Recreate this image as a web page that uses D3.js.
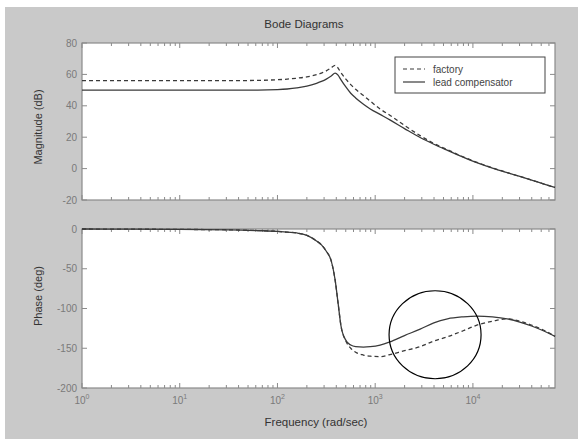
<!DOCTYPE html>
<html>
<head>
<meta charset="utf-8">
<script src="https://cdn.jsdelivr.net/npm/d3@7"></script>
<style>
  body { margin: 0; background: #fff; }
  svg { display: block; font-family: "Liberation Sans", Arial, sans-serif; }
</style>
</head>
<body>
<div id="chart"></div>
<script>
// Bode plot, factory vs lead compensator

const width = 578;
const height = 439;

// frequency grid (rad/sec)
const freq = [1, 3.16, 10, 31.6, 63, 100, 126, 158, 200, 251, 282, 316, 355, 389, 417, 447, 501, 562, 631, 759, 891, 1122, 1413, 1995, 2884, 3981, 5495, 7943, 10965, 15849, 22387, 30200, 39811, 52481, 69183];

// magnitude (dB)
const magFactory = [56, 56, 56, 56, 56.2, 56.6, 57, 57.6, 58.4, 59.8, 60.8, 62.2, 64.2, 65.8, 64, 61, 57, 53.5, 50.5, 46.5, 43, 38, 34, 27.5, 21, 16, 12, 7.5, 4, 0.5, -2.5, -5, -7.3, -9.7, -12];
const magLead = [50, 50, 50, 50, 50, 50.3, 50.7, 51.4, 52.5, 54.3, 55.5, 57, 59, 60.8, 59.5, 56.5, 52, 48, 45, 41, 38, 34.5, 31, 25.5, 19.8, 15.5, 11.6, 7.3, 3.8, 0.3, -2.6, -5, -7.3, -9.7, -12];

// phase (deg)
const phaseFactory = [0, -0.2, -0.5, -1, -2, -3, -4, -5, -8, -15, -20, -28, -40, -64, -93, -122, -141, -150, -155, -158.5, -160, -160.5, -158, -153, -148, -141, -135.5, -128, -121, -116, -113, -116, -121, -127, -135];
const phaseLead = [0, -0.2, -0.5, -1, -2, -3, -4, -5, -8, -15, -20, -28, -40, -64, -93, -122, -140, -146, -148, -148.5, -148, -146, -142, -134, -126, -118, -113, -110.5, -109.5, -110.5, -113, -117, -122, -128, -135];

// axis ticks
const magTicks = [-20, 0, 20, 40, 60, 80];
const phaseTicks = [-200, -150, -100, -50, 0];
const freqTicks = [1, 10, 100, 1000, 10000];

const seriesNames = ["factory", "lead compensator"];

// circled region on the phase plot
const markFreq = 4100;
const markPhase = -133;

const left = 82, right = 555;
const magBox = {top: 43, bottom: 200};
const phBox = {top: 229, bottom: 388};

const svg = d3.select("#chart")
  .append("svg")
  .attr("width", width)
  .attr("height", height);

// grey figure background
svg.append("rect")
  .attr("x", 5).attr("y", 7)
  .attr("width", width - 5).attr("height", height - 7)
  .attr("fill", "#c9c9c9");

const x = d3.scaleLog()
  .domain([1, 69183])
  .range([left, right]);

const yMag = d3.scaleLinear().domain([-20, 80]).range([magBox.bottom, magBox.top]);
const yPh = d3.scaleLinear().domain([-200, 0]).range([phBox.bottom, phBox.top]);

const axisColor = "#8a8a8a";
const tickColor = "#7a7a7a";
const lineColor = "#3a3a3a";

// minor log ticks
const minorTicks = [];
for (let dec = 1; dec < 100000; dec *= 10) {
  for (let k = 1; k < 10; k++) {
    const v = dec * k;
    if (v >= 1 && v <= 69183) minorTicks.push(v);
  }
}

function drawPanel(box, y, yTicks, labelY) {
  const g = svg.append("g");

  g.append("rect")
    .attr("x", left).attr("y", box.top)
    .attr("width", right - left).attr("height", box.bottom - box.top)
    .attr("fill", "#fff");

  // x ticks (inward, top and bottom)
  g.selectAll(".xt")
    .data(minorTicks)
    .enter().append("path")
    .attr("d", d => {
      const major = freqTicks.includes(d);
      const len = major ? 5 : 3;
      const px = x(d);
      return `M${px},${box.bottom}v${-len}M${px},${box.top}v${len}`;
    })
    .attr("stroke", axisColor)
    .attr("stroke-width", 1);

  // y ticks (inward, left and right)
  g.selectAll(".yt")
    .data(yTicks)
    .enter().append("path")
    .attr("d", d => `M${left},${y(d)}h5M${right},${y(d)}h-5`)
    .attr("stroke", axisColor)
    .attr("stroke-width", 1);

  g.selectAll(".ylab")
    .data(yTicks)
    .enter().append("text")
    .attr("x", left - 5)
    .attr("y", d => y(d))
    .attr("dy", "0.35em")
    .attr("text-anchor", "end")
    .attr("font-size", "10px")
    .attr("fill", tickColor)
    .text(d => d);

  g.append("rect")
    .attr("x", left).attr("y", box.top)
    .attr("width", right - left).attr("height", box.bottom - box.top)
    .attr("fill", "none")
    .attr("stroke", axisColor)
    .attr("stroke-width", 1.2);

  g.append("text")
    .attr("transform", `translate(38,${labelY}) rotate(-90)`)
    .attr("text-anchor", "middle")
    .attr("dy", "0.35em")
    .attr("font-size", "11px")
    .attr("fill", "#333")
    .text(box.label);

  return g;
}

magBox.label = "Magnitude (dB)";
phBox.label = "Phase (deg)";
drawPanel(magBox, yMag, magTicks, 127);
drawPanel(phBox, yPh, phaseTicks, 296);

// x tick labels with superscripts
const xl = svg.selectAll(".xlab")
  .data(freqTicks)
  .enter().append("text")
  .attr("x", d => x(d))
  .attr("y", 404)
  .attr("text-anchor", "middle")
  .attr("font-size", "10px")
  .attr("fill", tickColor);
xl.append("tspan").text("10");
xl.append("tspan")
  .attr("dy", -5)
  .attr("font-size", "7px")
  .text(d => Math.round(Math.log10(d)));

// curves
const magLine = series => d3.line()
  .x((d, i) => x(freq[i]))
  .y(d => yMag(d))
  .curve(d3.curveMonotoneX)(series);

const phLine = series => d3.line()
  .x((d, i) => x(freq[i]))
  .y(d => yPh(d))
  .curve(d3.curveMonotoneX)(series);

svg.append("path").attr("d", magLine(magLead))
  .attr("fill", "none").attr("stroke", lineColor).attr("stroke-width", 1.3);
svg.append("path").attr("d", magLine(magFactory))
  .attr("fill", "none").attr("stroke", lineColor).attr("stroke-width", 1.3)
  .attr("stroke-dasharray", "4,3");

svg.append("path").attr("d", phLine(phaseLead))
  .attr("fill", "none").attr("stroke", lineColor).attr("stroke-width", 1.3);
svg.append("path").attr("d", phLine(phaseFactory))
  .attr("fill", "none").attr("stroke", lineColor).attr("stroke-width", 1.3)
  .attr("stroke-dasharray", "4,3");

// legend
const lg = svg.append("g").attr("transform", "translate(395,57)");
lg.append("rect")
  .attr("width", 150).attr("height", 36)
  .attr("fill", "#fff")
  .attr("stroke", "#444")
  .attr("stroke-width", 1);
seriesNames.forEach((name, i) => {
  const yy = 12 + i * 13;
  lg.append("line")
    .attr("x1", 8).attr("x2", 30)
    .attr("y1", yy).attr("y2", yy)
    .attr("stroke", lineColor)
    .attr("stroke-width", 1.2)
    .attr("stroke-dasharray", i === 0 ? "4,3" : null);
  lg.append("text")
    .attr("x", 38).attr("y", yy)
    .attr("dy", "0.35em")
    .attr("font-size", "10px")
    .attr("fill", "#444")
    .text(name);
});

// circle annotation
svg.append("ellipse")
  .attr("cx", x(markFreq))
  .attr("cy", yPh(markPhase))
  .attr("rx", 46).attr("ry", 44)
  .attr("fill", "none")
  .attr("stroke", "#000")
  .attr("stroke-width", 1.2);

// titles
svg.append("text")
  .attr("x", 304).attr("y", 24)
  .attr("dy", "0.35em")
  .attr("text-anchor", "middle")
  .attr("font-size", "11.5px")
  .attr("fill", "#333")
  .text("Bode Diagrams");

svg.append("text")
  .attr("x", 316).attr("y", 422)
  .attr("dy", "0.35em")
  .attr("text-anchor", "middle")
  .attr("font-size", "11.5px")
  .attr("fill", "#333")
  .text("Frequency (rad/sec)");
</script>
</body>
</html>
